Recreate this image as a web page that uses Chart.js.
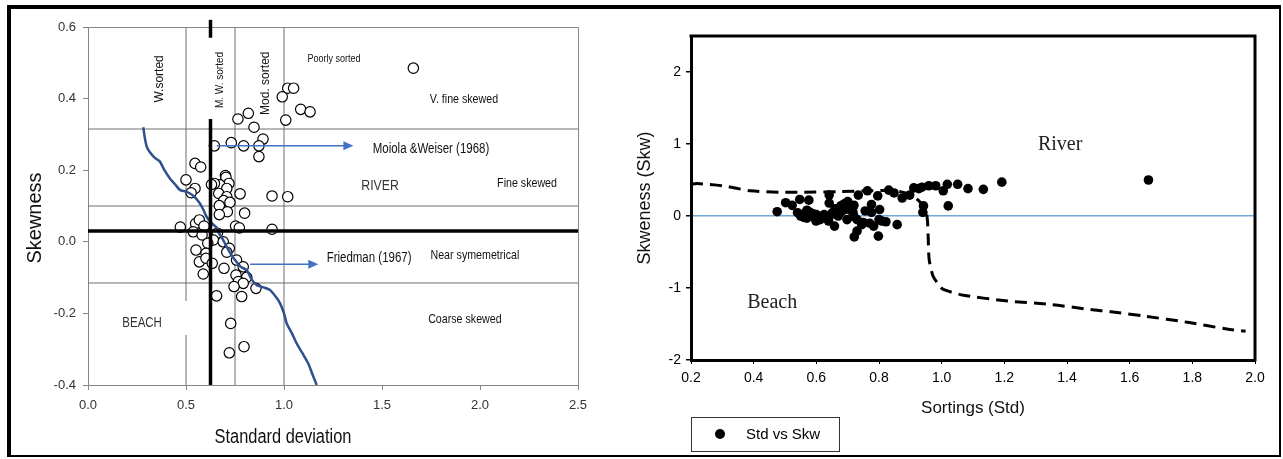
<!DOCTYPE html>
<html>
<head>
<meta charset="utf-8">
<script src="https://cdn.jsdelivr.net/npm/chart.js@4.4.0/dist/chart.umd.min.js"></script>
<style>
body { margin: 0; background: #fff; }
#wrap { position: relative; width: 1283px; height: 459px; overflow: hidden; }
#c1 { position: absolute; left: 0; top: 0; }
#c2 { position: absolute; left: 630px; top: 0; }
#frame { position: absolute; left: 7px; top: 5px; width: 1268px; height: 446px;
  border-style: solid; border-color: #000; border-width: 4px 2px 2px 4px; pointer-events: none; }
</style>
</head>
<body>
<div id="wrap">
  <canvas id="c1" width="637" height="459"></canvas>
  <canvas id="c2" width="653" height="459"></canvas>
  <div id="frame"></div>
</div>
<script>
// left panel: samples (standard deviation vs skewness)
const leftStd = [1.66, 1.019, 1.049, 0.991, 1.085, 1.133, 1.009, 0.765, 0.818, 0.847, 0.893, 0.872, 0.872, 0.794, 0.731, 0.645,
  0.546, 0.575, 0.500, 0.546, 0.526, 0.701, 0.704, 0.719, 0.673, 0.645, 0.708, 0.667, 0.776, 0.939, 1.019, 0.708, 0.692,
  0.724, 0.670, 0.799, 0.711, 0.670, 0.471, 0.549, 0.568, 0.592, 0.753, 0.772, 0.939, 0.537, 0.582, 0.660, 0.640, 0.611,
  0.690, 0.551, 0.602, 0.721, 0.708, 0.568, 0.602, 0.634, 0.694, 0.758, 0.792, 0.588, 0.755, 0.810, 0.767, 0.792, 0.745,
  0.857, 0.784, 0.656, 0.728, 0.796, 0.721, 0.630];
const leftSkew = [0.485, 0.429, 0.429, 0.405, 0.370, 0.363, 0.340, 0.343, 0.359, 0.320, 0.287, 0.268, 0.238, 0.268, 0.277, 0.268,
  0.219, 0.209, 0.173, 0.149, 0.137, 0.185, 0.180, 0.163, 0.159, 0.163, 0.149, 0.135, 0.134, 0.128, 0.126, 0.126, 0.115,
  0.110, 0.101, 0.080, 0.084, 0.076, 0.041, 0.051, 0.061, 0.044, 0.044, 0.039, 0.035, 0.028, 0.019, 0.024, 0.005, -0.004,
  0.000, -0.023, -0.032, -0.018, -0.029, -0.056, -0.046, -0.060, -0.074, -0.051, -0.070, -0.090, -0.093, -0.099, -0.111, -0.116, -0.125,
  -0.130, -0.153, -0.151, -0.228, -0.293, -0.310, 0.160];

// left panel: beach / river boundary curve
const curveStd = [0.282, 0.290, 0.300, 0.316, 0.340, 0.367, 0.390, 0.418, 0.445, 0.469, 0.500, 0.520, 0.545, 0.571, 0.590,
  0.605, 0.631, 0.656, 0.670, 0.690, 0.708, 0.730, 0.750, 0.780, 0.810, 0.835, 0.861, 0.900, 0.929, 0.960, 0.980, 1.000,
  1.014, 1.040, 1.065, 1.095, 1.124, 1.145, 1.167];
const curveSkew = [0.320, 0.290, 0.265, 0.250, 0.235, 0.224, 0.200, 0.177, 0.160, 0.145, 0.140, 0.135, 0.125, 0.107, 0.088,
  0.070, 0.052, 0.040, 0.022, 0.005, -0.014, -0.035, -0.051, -0.070, -0.079, -0.105, -0.121, -0.128, -0.135, -0.155, -0.172, -0.200,
  -0.228, -0.255, -0.284, -0.312, -0.340, -0.370, -0.400];

// left panel: class limits
const sortLimits = [0.5, 0.75, 1.0];
const skewLimits = [0.315, 0.1, -0.115];
const beachRiverStd = 0.625;
const beachRiverSkew = 0.03;

// right panel: samples
const rightStd = [0.475, 0.502, 0.523, 0.547, 0.576, 0.540, 0.560, 0.586, 0.599, 0.560, 0.580, 0.612, 0.625, 0.639, 0.641, 0.641,
  0.658, 0.665, 0.678, 0.690, 0.698, 0.704, 0.717, 0.717, 0.730, 0.734, 0.730, 0.721, 0.750, 0.756, 0.763, 0.776, 0.776,
  0.783, 0.796, 0.802, 0.809, 0.798, 0.822, 0.858, 0.831, 0.848, 0.874, 0.898, 0.911, 0.927, 0.937, 0.942, 0.940, 0.959,
  0.981, 1.005, 1.018, 1.021, 1.051, 1.084, 1.133, 1.192, 1.660,
  0.55, 0.57, 0.59, 0.60, 0.62, 0.63, 0.65, 0.66, 0.67, 0.68, 0.69, 0.70, 0.71, 0.72, 0.72, 0.57, 0.60, 0.64, 0.66, 0.70, 0.745, 0.77, 0.80];
const rightSkw = [0.06, 0.185, 0.148, 0.23, 0.22, 0.046, 0.023, 0.0, -0.07, -0.02, 0.05, -0.05, 0.02, -0.07, 0.29, 0.18,
  -0.14, 0.02, 0.14, 0.09, -0.05, 0.16, 0.05, 0.12, -0.05, 0.29, -0.21, -0.29, -0.09, 0.07, 0.35, 0.16, 0.05,
  -0.14, 0.28, 0.09, -0.07, -0.28, -0.08, -0.12, 0.36, 0.32, 0.25, 0.29, 0.39, 0.38, 0.40, 0.14, 0.05, 0.42,
  0.42, 0.35, 0.44, 0.14, 0.44, 0.38, 0.37, 0.47, 0.50,
  0.0, -0.03, 0.03, -0.05, 0.0, -0.03, 0.04, 0.10, 0.0, 0.06, 0.17, 0.20, 0.08, 0.15, -0.01, 0.08, 0.02, -0.02, 0.06, 0.12, -0.12, -0.10, -0.05];

// right panel: dashed divide
const divStd = [0.20, 0.22, 0.30, 0.39, 0.48, 0.56, 0.68, 0.76, 0.85, 0.90, 0.925, 0.94, 0.953, 0.957, 0.96, 0.972, 0.99,
  1.005, 1.07, 1.21, 1.35, 1.476, 1.54, 1.646, 1.79, 1.91, 1.97];
const divSkw = [0.44, 0.45, 0.42, 0.35, 0.33, 0.33, 0.34, 0.35, 0.35, 0.30, 0.22, 0.14, 0.0, -0.3, -0.6, -0.83, -0.95,
  -1.02, -1.10, -1.18, -1.23, -1.30, -1.33, -1.39, -1.48, -1.57, -1.60];

const pts = (xs, ys) => xs.map((x, i) => ({ x: x, y: ys[i] }));
const fmt1 = v => (Math.abs(v) < 1e-9 ? 0 : v).toFixed(1);

const SANS = "'Liberation Sans', Arial, sans-serif";
const SERIF = "'Liberation Serif', 'Times New Roman', serif";
const NARROW_K = 0.82; // squeeze factor to mimic the condensed Calibri-like labels

// sq: horizontally squeezed text
const leftLabels = [
  { t: 'Poorly sorted', x: 1.255, y: 0.51, f: '11px ' + SANS, sq: true },
  { t: 'V. fine skewed', x: 1.918, y: 0.399, f: '13px ' + SANS, sq: true },
  { t: 'Moiola &Weiser (1968)', x: 1.75, y: 0.258, f: '14px ' + SANS, sq: true },
  { t: 'RIVER', x: 1.49, y: 0.156, f: '15px ' + SANS, c: '#333', sq: true },
  { t: 'Fine skewed', x: 2.24, y: 0.164, f: '13px ' + SANS, sq: true },
  { t: 'Near symemetrical', x: 1.974, y: -0.037, f: '13px ' + SANS, sq: true },
  { t: 'Friedman (1967)', x: 1.434, y: -0.045, f: '14px ' + SANS, sq: true },
  { t: 'Coarse skewed', x: 1.923, y: -0.216, f: '13px ' + SANS, sq: true },
  { t: 'BEACH', x: 0.276, y: -0.228, f: '14px ' + SANS, c: '#333', sq: true },
  { t: 'W.sorted', x: 0.367, y: 0.455, f: '12px ' + SANS, r: true },
  { t: 'M. W. sorted', x: 0.673, y: 0.452, f: '10px ' + SANS, r: true },
  { t: 'Mod. sorted', x: 0.908, y: 0.443, f: '12px ' + SANS, r: true }
];
const leftArrows = [
  { x1: 0.657, x2: 1.354, y: 0.268 },
  { x1: 0.827, x2: 1.175, y: -0.063 }
];

function seg(chart, x1, y1, x2, y2, color, width) {
  const xs = chart.scales.x, ys = chart.scales.y, ctx = chart.ctx;
  ctx.save();
  ctx.strokeStyle = color;
  ctx.lineWidth = width;
  ctx.beginPath();
  ctx.moveTo(xs.getPixelForValue(x1), ys.getPixelForValue(y1));
  ctx.lineTo(xs.getPixelForValue(x2), ys.getPixelForValue(y2));
  ctx.stroke();
  ctx.restore();
}

function squeezed(ctx, text, px, py, rot) {
  ctx.save();
  ctx.translate(px, py);
  if (rot) ctx.rotate(rot);
  ctx.scale(NARROW_K, 1);
  ctx.fillText(text, 0, 0);
  ctx.restore();
}

const leftGuides = {
  id: 'leftGuides',
  beforeDatasetsDraw(chart) {
    const a = chart.chartArea, ctx = chart.ctx;
    // plot border (top / right)
    ctx.save();
    ctx.strokeStyle = '#868686';
    ctx.lineWidth = 1;
    ctx.beginPath();
    ctx.moveTo(a.left, a.top + 0.5);
    ctx.lineTo(a.right + 0.5, a.top + 0.5);
    ctx.lineTo(a.right + 0.5, a.bottom);
    ctx.stroke();
    ctx.restore();
    sortLimits.forEach(v => {
      if (v === 0.5) {
        seg(chart, v, 0.6, v, -0.165, '#6e6e6e', 1);
        seg(chart, v, -0.26, v, -0.4, '#6e6e6e', 1);
      } else {
        seg(chart, v, 0.6, v, -0.4, '#6e6e6e', 1);
      }
    });
    skewLimits.forEach(v => seg(chart, 0, v, 2.5, v, '#6e6e6e', 1));
  },
  afterDatasetsDraw(chart) {
    const xs = chart.scales.x, ys = chart.scales.y, ctx = chart.ctx, a = chart.chartArea;
    seg(chart, 0, beachRiverSkew, 2.5, beachRiverSkew, '#000', 3.5);
    seg(chart, beachRiverStd, 0.62, beachRiverStd, 0.57, '#000', 3.5);
    seg(chart, beachRiverStd, 0.343, beachRiverStd, -0.4, '#000', 3.5);

    ctx.save();
    ctx.strokeStyle = '#4472c4';
    ctx.fillStyle = '#4472c4';
    ctx.lineWidth = 1.5;
    leftArrows.forEach(ar => {
      const px1 = xs.getPixelForValue(ar.x1), px2 = xs.getPixelForValue(ar.x2), py = ys.getPixelForValue(ar.y);
      ctx.beginPath();
      ctx.moveTo(px1, py);
      ctx.lineTo(px2 - 8, py);
      ctx.stroke();
      ctx.beginPath();
      ctx.moveTo(px2, py);
      ctx.lineTo(px2 - 10, py - 4.5);
      ctx.lineTo(px2 - 10, py + 4.5);
      ctx.closePath();
      ctx.fill();
    });
    ctx.restore();

    ctx.save();
    ctx.textAlign = 'center';
    ctx.textBaseline = 'middle';
    leftLabels.forEach(l => {
      ctx.font = l.f;
      ctx.fillStyle = l.c || '#111';
      const px = xs.getPixelForValue(l.x), py = ys.getPixelForValue(l.y);
      if (l.r) {
        ctx.save();
        ctx.translate(px, py);
        ctx.rotate(-Math.PI / 2);
        ctx.fillText(l.t, 0, 0);
        ctx.restore();
      } else if (l.sq) {
        squeezed(ctx, l.t, px, py, 0);
      } else {
        ctx.fillText(l.t, px, py);
      }
    });
    // axis titles
    ctx.fillStyle = '#111';
    ctx.font = '20px ' + SANS;
    squeezed(ctx, 'Standard deviation', a.left + 195, a.bottom + 52, 0);
    ctx.translate(a.left - 53, a.top + 191);
    ctx.rotate(-Math.PI / 2);
    ctx.fillText('Skewness', 0, 0);
    ctx.restore();
  }
};

new Chart(document.getElementById('c1'), {
  type: 'scatter',
  data: {
    datasets: [
      {
        label: 'Beach / River line',
        type: 'line',
        data: pts(curveStd, curveSkew),
        borderColor: '#2f4f8f',
        borderWidth: 2.5,
        pointRadius: 0,
        tension: 0.2,
        fill: false
      },
      {
        label: 'Samples',
        data: pts(leftStd, leftSkew),
        pointStyle: 'circle',
        pointRadius: 5.2,
        backgroundColor: '#fff',
        borderColor: '#000',
        borderWidth: 1.2
      }
    ]
  },
  options: {
    responsive: false,
    animation: false,
    layout: { padding: { left: 0, top: 27, right: 59, bottom: 0 } },
    plugins: { legend: { display: false }, tooltip: { enabled: false } },
    scales: {
      x: {
        type: 'linear', min: 0, max: 2.5,
        afterFit: s => { s.height = 74; },
        ticks: { stepSize: 0.5, callback: fmt1, font: { family: SANS, size: 13 }, color: '#333', padding: 8 },
        grid: { drawOnChartArea: false, tickLength: 5, color: '#868686' },
        border: { color: '#868686', width: 1 }
      },
      y: {
        min: -0.4, max: 0.6,
        afterFit: s => { s.width = 88; },
        ticks: { stepSize: 0.2, callback: fmt1, font: { family: SANS, size: 13 }, color: '#333', padding: 7 },
        grid: { drawOnChartArea: false, tickLength: 5, color: '#868686' },
        border: { color: '#868686', width: 1 }
      }
    }
  },
  plugins: [leftGuides]
});

// right panel
const rightFrame = {
  id: 'rightFrame',
  afterDraw(chart) {
    const a = chart.chartArea, ctx = chart.ctx;
    const xs = chart.scales.x, ys = chart.scales.y;
    ctx.save();
    ctx.strokeStyle = '#000';
    ctx.lineWidth = 3;
    ctx.beginPath();
    ctx.moveTo(a.left - 1.5, a.top);
    ctx.lineTo(a.right, a.top);
    ctx.lineTo(a.right, a.bottom + 1.5);
    ctx.stroke();

    ctx.fillStyle = '#222';
    ctx.font = '20px ' + SERIF;
    ctx.textAlign = 'center';
    ctx.textBaseline = 'middle';
    ctx.fillText('River', xs.getPixelForValue(1.378), ys.getPixelForValue(0.996));
    ctx.fillText('Beach', xs.getPixelForValue(0.459), ys.getPixelForValue(-1.21));

    // legend box
    const ds = chart.data.datasets[0];
    ctx.lineWidth = 1;
    ctx.strokeStyle = '#333';
    ctx.strokeRect(a.left + 0.5, 417.5, 148, 34);
    ctx.fillStyle = ds.backgroundColor;
    ctx.beginPath();
    ctx.arc(a.left + 29, 434, 5, 0, Math.PI * 2);
    ctx.fill();
    ctx.fillStyle = '#000';
    ctx.font = '15px ' + SANS;
    ctx.textAlign = 'left';
    ctx.fillText(ds.label, a.left + 55, 435);
    ctx.restore();
  }
};

new Chart(document.getElementById('c2'), {
  type: 'scatter',
  data: {
    datasets: [
      {
        label: 'Std vs Skw',
        data: pts(rightStd, rightSkw),
        pointRadius: 4.8,
        backgroundColor: '#000',
        borderColor: '#000',
        borderWidth: 0
      },
      {
        label: 'divide',
        type: 'line',
        data: pts(divStd, divSkw),
        borderColor: '#000',
        borderWidth: 3,
        borderDash: [12, 7],
        pointRadius: 0,
        tension: 0.25,
        fill: false
      }
    ]
  },
  options: {
    responsive: false,
    animation: false,
    layout: { padding: { left: 0, top: 36, right: 28, bottom: 0 } },
    plugins: { legend: { display: false }, tooltip: { enabled: false } },
    scales: {
      x: {
        type: 'linear', min: 0.2, max: 2.0,
        afterFit: s => { s.height = 99; },
        ticks: { stepSize: 0.2, callback: fmt1, font: { family: SANS, size: 14 }, color: '#000', padding: 6 },
        grid: { drawOnChartArea: false, tickLength: 4, color: '#000' },
        border: { color: '#000', width: 3 },
        title: { display: true, text: 'Sortings (Std)', font: { family: SANS, size: 17 }, color: '#111', padding: { top: 0, bottom: 40 } }
      },
      y: {
        min: -2, max: 2.5,
        afterFit: s => { s.width = 61; },
        afterBuildTicks: s => { s.ticks = s.ticks.filter(t => Number.isInteger(t.value)); },
        ticks: { stepSize: 1, font: { family: SANS, size: 14 }, color: '#000', padding: 5 },
        grid: {
          drawOnChartArea: true, tickLength: 5, tickColor: '#000', lineWidth: 1.5,
          color: c => (c.tick && c.tick.value === 0 ? '#6fa8dc' : 'rgba(0,0,0,0)')
        },
        border: { color: '#000', width: 3 },
        title: { display: true, text: 'Skweness (Skw)', font: { family: SANS, size: 18 }, color: '#111', padding: { top: 4, bottom: 0 } }
      }
    }
  },
  plugins: [rightFrame]
});
</script>
</body>
</html>
